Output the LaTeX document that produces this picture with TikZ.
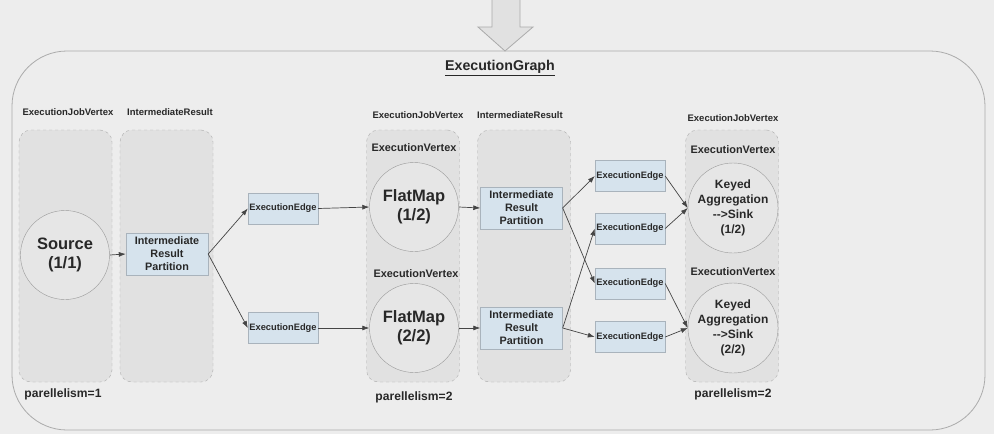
\documentclass[tikz,border=0pt]{standalone}
\usepackage{fontspec}
\setmainfont{Liberation Sans}
\usetikzlibrary{arrows.meta}
\definecolor{bg}{HTML}{EDEDED}
\definecolor{colfill}{HTML}{E1E1E1}
\definecolor{colline}{HTML}{ABABAB}
\definecolor{bluefill}{HTML}{D6E3ED}
\definecolor{blueline}{HTML}{A9B3BC}
\definecolor{txt}{HTML}{282828}
\definecolor{arr}{HTML}{454545}
\tikzset{
  colbox/.style={draw=colline, dashed, fill=colfill, rounded corners=12pt, minimum width=93pt, minimum height=252pt, inner sep=0pt},
  vcircle/.style={circle, draw=colline!90!black, fill=colfill!60!bg, minimum size=89pt, inner sep=0pt, align=center, text=txt, font=\bfseries\fontsize{16.5}{19}\selectfont},
  sinkcircle/.style={vcircle, font=\bfseries\fontsize{12}{15}\selectfont},
  irp/.style={draw=blueline, fill=bluefill, minimum width=82pt, minimum height=42pt, inner sep=0pt, align=center, text=txt, font=\bfseries\fontsize{10.8}{13}\selectfont},
  ee/.style={draw=blueline, fill=bluefill, minimum width=70pt, minimum height=31pt, inner sep=0pt, text=txt, font=\bfseries\fontsize{9.3}{11}\selectfont},
  lbl/.style={text=txt, inner sep=0pt, font=\bfseries\fontsize{9.5}{11}\selectfont},
  evlbl/.style={text=txt, inner sep=0pt, font=\bfseries\fontsize{10.9}{12}\selectfont},
  par/.style={text=txt, inner sep=0pt, font=\bfseries\fontsize{12.1}{14}\selectfont},
  conn/.style={draw=arr, line width=0.7pt, -{Latex[length=7pt,width=5pt]}},
}
\begin{document}
\begin{tikzpicture}[x=1pt,y=-1pt]
\fill[bg] (0,0) rectangle (994,434);
\useasboundingbox (0,0) rectangle (994,434);
% outer frame
\draw[draw=colline, line width=0.8pt, rounded corners=55pt] (12,51) rectangle (985,430);
% top arrow
\draw[draw=colline, fill=colfill, line width=0.8pt] (492,-2) -- (520,-2) -- (520,27) -- (533,27) -- (505,51) -- (478,27) -- (492,27) -- cycle;
\node[text=txt, inner sep=0pt, font=\bfseries\fontsize{14.2}{16}\selectfont] (title) at (500,68) {\underline{ExecutionGraph}};

% columns
\node[colbox] (c1) at (65.5,256) {};
\node[colbox] (c2) at (166.5,256) {};
\node[colbox] (c3) at (413,256) {};
\node[colbox] (c4) at (524,256) {};
\node[colbox] (c5) at (732,256) {};

% column labels
\node[lbl] (l1) at (68,112) {ExecutionJobVertex};
\node[lbl] (l2) at (170,112) {IntermediateResult};
\node[lbl] (l3) at (418,115) {ExecutionJobVertex};
\node[lbl] (l4) at (520,115) {IntermediateResult};
\node[lbl] (l5) at (733,118) {ExecutionJobVertex};

% execution vertex labels
\node[evlbl] (ev1) at (414,148) {ExecutionVertex};
\node[evlbl] (ev2) at (416,274) {ExecutionVertex};
\node[evlbl] (ev3) at (733,150) {ExecutionVertex};
\node[evlbl] (ev4) at (733,272) {ExecutionVertex};

% parallelism labels
\node[par] (p1) at (63,394) {parellelism=1};
\node[par] (p2) at (414,397) {parellelism=2};
\node[par] (p3) at (733,394) {parellelism=2};

% vertices
\node[vcircle] (src) at (65,255) {Source\\(1/1)};
\node[vcircle] (fm1) at (414,207) {FlatMap\\(1/2)};
\node[vcircle] (fm2) at (414,328) {FlatMap\\(2/2)};
\node[sinkcircle] (sk1) at (733,208) {Keyed\\Aggregation\\-{}->Sink\\(1/2)};
\node[sinkcircle] (sk2) at (733,328) {Keyed\\Aggregation\\-{}->Sink\\(2/2)};

% partitions
\node[irp] (ir1) at (167,254) {Intermediate\\Result\\Partition};
\node[irp] (ir2) at (521.5,208) {Intermediate\\Result\\Partition};
\node[irp] (ir3) at (521.5,328) {Intermediate\\Result\\Partition};

% execution edges
\node[ee] (e1) at (283,208.5) {ExecutionEdge};
\node[ee] (e2) at (283,328) {ExecutionEdge};
\node[ee] (e3) at (630,176) {ExecutionEdge};
\node[ee] (e4) at (630,228.5) {ExecutionEdge};
\node[ee] (e5) at (630,283.5) {ExecutionEdge};
\node[ee] (e6) at (630,337) {ExecutionEdge};

% connectors
\draw[conn] (src.east) -- (ir1.west);
\draw[conn] (ir1.east) -- (e1.west);
\draw[conn] (ir1.east) -- (e2.west);
\draw[conn] (e1.east) -- (fm1.west);
\draw[conn] (e2.east) -- (fm2.west);
\draw[conn] (fm1.east) -- (ir2.west);
\draw[conn] (fm2.east) -- (ir3.west);
\draw[conn] (ir2.east) -- (e3.west);
\draw[conn] (ir2.east) -- (e5.west);
\draw[conn] (ir3.east) -- (e4.west);
\draw[conn] (ir3.east) -- (e6.west);
\draw[conn] (e3.east) -- (sk1.west);
\draw[conn] (e4.east) -- (sk1.west);
\draw[conn] (e5.east) -- (sk2.west);
\draw[conn] (e6.east) -- (sk2.west);
\end{tikzpicture}
\end{document}
